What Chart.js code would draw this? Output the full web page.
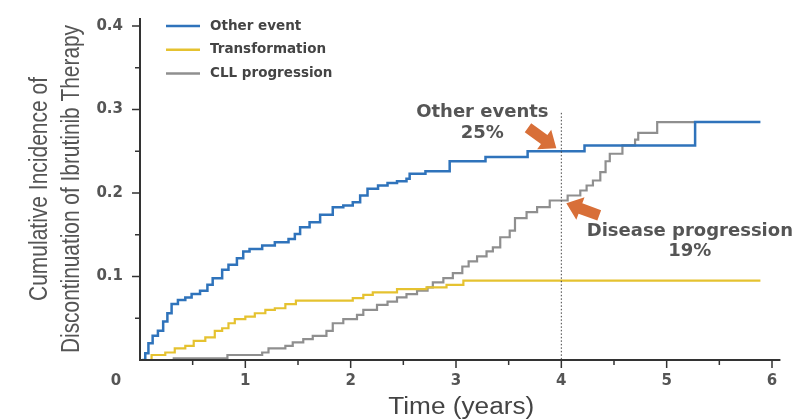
<!DOCTYPE html>
<html>
<head>
<meta charset="utf-8">
<script src="https://cdn.jsdelivr.net/npm/chart.js@4.4.1/dist/chart.umd.min.js"></script>
<style>
  html, body { margin: 0; padding: 0; background: #fff; }
</style>
</head>
<body>
<canvas id="chart" width="807" height="420"></canvas>
<script>
const seriesNames = ['Other event', 'Transformation', 'CLL progression'];
const seriesColors = ['#2f73bb', '#e5c230', '#8f8f8f'];

const otherTime = [0.02, 0.05, 0.08, 0.12, 0.17, 0.22, 0.26, 0.30, 0.36, 0.43, 0.49, 0.57, 0.64, 0.69, 0.78, 0.84, 0.92, 0.98, 1.04, 1.16, 1.28, 1.41, 1.47, 1.52, 1.61, 1.71, 1.83, 1.93, 2.02, 2.09, 2.16, 2.26, 2.35, 2.44, 2.53, 2.56, 2.71, 2.94, 3.28, 3.68, 4.22, 5.27, 5.89];
const otherValue = [0, 0.008, 0.020, 0.029, 0.035, 0.046, 0.056, 0.067, 0.072, 0.075, 0.079, 0.083, 0.090, 0.098, 0.108, 0.114, 0.122, 0.130, 0.133, 0.137, 0.141, 0.145, 0.151, 0.159, 0.165, 0.174, 0.183, 0.185, 0.189, 0.197, 0.205, 0.209, 0.212, 0.214, 0.217, 0.223, 0.226, 0.238, 0.243, 0.250, 0.257, 0.285, 0.285];

const transTime = [0.05, 0.11, 0.24, 0.33, 0.43, 0.51, 0.62, 0.71, 0.78, 0.84, 0.90, 1.00, 1.09, 1.19, 1.28, 1.38, 1.48, 2.02, 2.12, 2.21, 2.44, 2.72, 2.91, 3.07, 5.89];
const transValue = [0, 0.006, 0.009, 0.014, 0.017, 0.023, 0.027, 0.035, 0.038, 0.044, 0.049, 0.052, 0.056, 0.060, 0.062, 0.067, 0.071, 0.074, 0.078, 0.081, 0.085, 0.087, 0.090, 0.095, 0.095];

const cllTime = [0.31, 0.83, 1.16, 1.22, 1.38, 1.45, 1.55, 1.64, 1.77, 1.83, 1.93, 2.06, 2.12, 2.25, 2.35, 2.44, 2.53, 2.63, 2.73, 2.78, 2.88, 2.97, 3.06, 3.12, 3.20, 3.29, 3.35, 3.42, 3.51, 3.56, 3.67, 3.77, 3.89, 4.06, 4.18, 4.24, 4.30, 4.37, 4.42, 4.46, 4.58, 4.70, 4.73, 4.91, 5.27];
const cllValue = [0.002, 0.006, 0.009, 0.014, 0.017, 0.021, 0.025, 0.029, 0.035, 0.044, 0.049, 0.054, 0.060, 0.066, 0.070, 0.075, 0.079, 0.083, 0.087, 0.093, 0.098, 0.104, 0.112, 0.118, 0.124, 0.130, 0.135, 0.147, 0.155, 0.170, 0.177, 0.183, 0.191, 0.197, 0.203, 0.209, 0.215, 0.225, 0.238, 0.247, 0.257, 0.264, 0.272, 0.285, 0.285];

const xTickLabels = ['0', '1', '2', '3', '4', '5', '6'];
const yTickLabels = ['0.1', '0.2', '0.3', '0.4'];
const xTitle = 'Time (years)';
const yTitle = ['Cumulative Incidence of', 'Discontinuation of Ibrutinib Therapy'];
const markTime = 4;
const noteOther = ['Other events', '25%'];
const noteProgression = ['Disease progression', '19%'];

function toPoints(times, values) {
  return times.map((t, i) => ({ x: t, y: values[i] }));
}

const labelFont = 'DejaVu Sans';
const titleFont = "'Liberation Sans', Arial, sans-serif";

function drawArrow(ctx, tipX, tipY, angle) {
  ctx.save();
  ctx.translate(tipX, tipY);
  ctx.rotate(angle);
  ctx.beginPath();
  ctx.moveTo(0, 0);
  ctx.lineTo(-15, -12);
  ctx.lineTo(-15, -5.5);
  ctx.lineTo(-35, -5.5);
  ctx.lineTo(-35, 5.5);
  ctx.lineTo(-15, 5.5);
  ctx.lineTo(-15, 12);
  ctx.closePath();
  ctx.fillStyle = '#d86f38';
  ctx.fill();
  ctx.restore();
}

// text squeezed/stretched along its own direction so it fills a given length
function fitText(ctx, text, cx, cy, length, angle) {
  const w = ctx.measureText(text).width;
  ctx.save();
  ctx.translate(cx, cy);
  ctx.rotate(angle);
  ctx.scale(length / w, 1);
  ctx.fillText(text, 0, 0);
  ctx.restore();
}

const decorations = {
  id: 'decorations',
  afterDraw(chart) {
    const { ctx, scales: { x, y } } = chart;
    ctx.save();

    // axis lines
    ctx.strokeStyle = '#333';
    ctx.lineWidth = 2;
    ctx.beginPath();
    ctx.moveTo(x.left, y.top - 8);
    ctx.lineTo(x.left, y.bottom + 1);
    ctx.moveTo(x.left - 1, y.bottom);
    ctx.lineTo(x.getPixelForValue(6.08), y.bottom);
    ctx.stroke();

    // major + minor ticks
    ctx.lineWidth = 1.5;
    ctx.beginPath();
    for (let i = 1; i <= 12; i++) {
      const px = x.getPixelForValue(i / 2);
      ctx.moveTo(px, y.bottom);
      ctx.lineTo(px, y.bottom + (i % 2 ? 5 : 8));
    }
    for (let i = 1; i <= 8; i++) {
      const py = y.getPixelForValue(i * 0.05);
      ctx.moveTo(x.left, py);
      ctx.lineTo(x.left - (i % 2 ? 5 : 8), py);
    }
    ctx.stroke();

    // the shared origin label
    ctx.fillStyle = '#555';
    ctx.font = 'bold 15px ' + labelFont;
    ctx.textAlign = 'center';
    ctx.textBaseline = 'middle';
    ctx.fillText(xTickLabels[0], x.left - 24, y.bottom + 21);

    // axis titles
    ctx.font = '25px ' + titleFont;
    ctx.fillStyle = '#555';
    const midY = y.getPixelForValue(0.2) - 4;
    fitText(ctx, yTitle[0], 40, midY, 224, -Math.PI / 2);
    fitText(ctx, yTitle[1], 72, midY, 328, -Math.PI / 2);
    ctx.font = '23px ' + titleFont;
    ctx.fillStyle = '#444';
    fitText(ctx, xTitle, x.getPixelForValue(3.05), y.bottom + 48, 146, 0);

    // legend
    chart.data.datasets.forEach((ds, i) => {
      const ly = y.top + i * 23.8;
      ctx.strokeStyle = ds.borderColor;
      ctx.lineWidth = 2.5;
      ctx.beginPath();
      ctx.moveTo(x.left + 26, ly);
      ctx.lineTo(x.left + 60, ly);
      ctx.stroke();
      ctx.fillStyle = '#444';
      ctx.font = 'bold 13.5px ' + labelFont;
      ctx.textAlign = 'left';
      ctx.fillText(ds.label, x.left + 70, ly);
    });

    // dotted marker at 4 years
    const mx = x.getPixelForValue(markTime);
    ctx.strokeStyle = '#444';
    ctx.lineWidth = 1;
    ctx.setLineDash([1.5, 2]);
    ctx.beginPath();
    ctx.moveTo(mx, y.getPixelForValue(0.296));
    ctx.lineTo(mx, y.bottom);
    ctx.stroke();
    ctx.setLineDash([]);

    // notes
    ctx.fillStyle = '#555';
    ctx.font = 'bold 18px ' + labelFont;
    ctx.textAlign = 'center';
    ctx.fillText(noteOther[0], x.getPixelForValue(3.25), y.getPixelForValue(0.297));
    ctx.fillText(noteOther[1], x.getPixelForValue(3.25), y.getPixelForValue(0.271));
    ctx.fillText(noteProgression[0], x.getPixelForValue(5.22), y.getPixelForValue(0.154));
    ctx.fillText(noteProgression[1], x.getPixelForValue(5.22), y.getPixelForValue(0.130));

    drawArrow(ctx, mx - 5, y.getPixelForValue(0.25) - 3, Math.atan2(21, 29));
    drawArrow(ctx, mx + 5, y.getPixelForValue(0.19) + 2, Math.atan2(-12, -33));

    ctx.restore();
  }
};

new Chart(document.getElementById('chart'), {
  type: 'line',
  data: {
    datasets: [
      { label: seriesNames[0], data: toPoints(otherTime, otherValue), borderColor: seriesColors[0], borderWidth: 2.5 },
      { label: seriesNames[1], data: toPoints(transTime, transValue), borderColor: seriesColors[1], borderWidth: 2.2 },
      { label: seriesNames[2], data: toPoints(cllTime, cllValue), borderColor: seriesColors[2], borderWidth: 2.2 }
    ]
  },
  options: {
    responsive: false,
    animation: false,
    elements: {
      line: { stepped: 'before', fill: false },
      point: { radius: 0 }
    },
    layout: { padding: { top: 15, right: 35, left: 0, bottom: 0 } },
    plugins: {
      legend: { display: false },
      tooltip: { enabled: false }
    },
    scales: {
      x: {
        type: 'linear',
        min: 0,
        max: 6,
        afterFit: (scale) => { scale.height = 60; },
        grid: { display: false, drawTicks: false },
        border: { display: false },
        ticks: {
          stepSize: 1,
          padding: 12,
          color: '#555',
          font: { family: labelFont, size: 15, weight: 'bold' },
          callback: (v) => (v === 0 ? '' : xTickLabels[v])
        }
      },
      y: {
        min: 0,
        max: 0.4,
        afterFit: (scale) => { scale.width = 140; },
        grid: { display: false, drawTicks: false },
        border: { display: false },
        ticks: {
          stepSize: 0.1,
          padding: 17,
          color: '#555',
          font: { family: labelFont, size: 15, weight: 'bold' },
          callback: (v) => {
            const k = Math.round(v * 10);
            return k === 0 ? '' : yTickLabels[k - 1];
          }
        }
      }
    }
  },
  plugins: [decorations]
});
</script>
</body>
</html>
